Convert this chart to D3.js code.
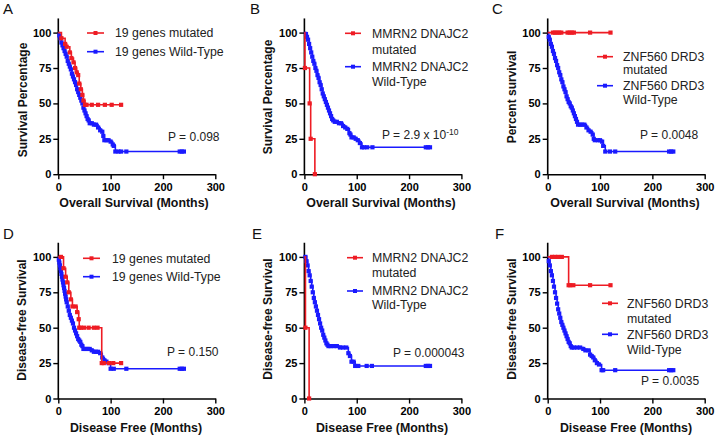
<!DOCTYPE html>
<html><head><meta charset="utf-8">
<script src="https://cdn.jsdelivr.net/npm/d3@7"></script>
<style>body{margin:0;background:#fff}svg{display:block}text{font-family:Arial,"Liberation Sans",sans-serif}</style>
</head><body>
<svg id="c" width="716" height="437"></svg>
<script>
// ---- data ----
const xTicks = [0, 100, 200, 300];
const yTicks = [0, 25, 50, 75, 100];
const panelLetters = ["A", "B", "C", "D", "E", "F"];
const yTitles = ["Survival Percentage", "Survival Percentage", "Percent survival", "Disease-free Survival", "Disease-free Survival", "Disease-free Survival"];
const xTitles = ["Overall Survival (Months)", "Overall Survival (Months)", "Overall Survival (Months)", "Disease Free (Months)", "Disease Free (Months)", "Disease Free (Months)"];
const pValues = ["P = 0.098", "P = 2.9 x 10", "P = 0.0048", "P = 0.150", "P = 0.000043", "P = 0.0035"];
const pExponent = ["", "-10", "", "", "", ""];
const mutLabels = [["19 genes mutated"], ["MMRN2 DNAJC2", "mutated"], ["ZNF560 DRD3", "mutated"], ["19 genes mutated"], ["MMRN2 DNAJC2", "mutated"], ["ZNF560 DRD3", "mutated"]];
const wtLabels = [["19 genes Wild-Type"], ["MMRN2 DNAJC2", "Wild-Type"], ["ZNF560 DRD3", "Wild-Type"], ["19 genes Wild-Type"], ["MMRN2 DNAJC2", "Wild-Type"], ["ZNF560 DRD3", "Wild-Type"]];

// Panel A (overall survival, 19 genes)
const aMutT = [0, 6, 13, 16, 22, 25, 29, 32, 35, 38, 40, 43, 46, 48, 51, 54, 64, 76, 89, 102, 120];
const aMutS = [100, 96, 92, 90, 86, 82, 79, 75, 72, 70, 64, 60, 56, 52, 49, 49, 49, 49, 49, 49, 49];
const aWtT = [0,2,4,6,8,10,12,14,16,18,20,22,24,26,28,30,32,34,36,38,40,42,44,46,48,50,52,54,56,58,60,64,68,72,76,80,84,86,88,92,96,100,104,106,109,115,120,130,232,236,240];
const aWtS = [100,98,96,93,91,89,87,85,83,80,78,76,74,71,69,67,65,63,60,58,56,54,52,50,47,45,43,41,39,38,36,36,35,35,33,31,30,27,24,24,24,23,21,20,16,16,16,16,16,16,16];
// Panel B (overall survival, MMRN2 DNAJC2)
const bMutT = [0, 1, 10, 12, 20];
const bMutS = [100, 75, 50, 25, 0];
const bWtT = [0,3,5,7,9,11,13,15,17,19,21,23,25,27,29,31,33,35,37,39,41,43,45,47,49,51,53,55,58,62,66,70,74,78,82,86,88,90,94,98,102,106,110,114,120,130,232,236,240];
const bWtS = [100,99,97,95,92,89,86,83,80,78,75,73,70,68,65,63,60,57,55,53,51,49,47,45,43,41,39,38,37,37,36,36,34,33,32,29,28,26,26,25,24,22,19,19,19,19,19,19,19];
// Panel C (overall survival, ZNF560 DRD3)
const cMutT = [0, 10, 14, 18, 22, 26, 38, 42, 46, 50, 81, 120];
const cMutS = [100, 100, 100, 100, 100, 100, 100, 100, 100, 100, 100, 100];
const cWtT = [0,2,4,6,8,10,12,14,16,18,20,22,24,26,28,30,32,34,36,38,40,42,44,46,48,50,52,54,56,58,62,66,70,74,78,82,86,88,90,96,100,104,106,110,119,129,232,236,240];
const cWtS = [100,97,95,92,90,87,85,82,80,77,75,72,70,67,65,62,60,58,55,53,51,50,48,47,45,43,41,39,37,35,35,35,35,33,31,30,28,25,24,24,24,23,20,16,16,16,16,16,16];
// Panel D (disease free, 19 genes)
const dMutT = [0, 5, 10, 14, 17, 20, 24, 27, 33, 36, 39, 40, 43, 49, 58, 68, 75, 83, 87, 97, 105, 120];
const dMutS = [100, 100, 92, 86, 82, 75, 70, 65, 65, 61, 56, 50, 50, 50, 50, 50, 50, 25, 25, 25, 25, 25];
const dWtT = [0,1,2,3,4,5,6,7,8,9,10,11,12,13,14,15,16,18,20,22,24,26,28,30,32,34,36,38,40,42,44,46,48,52,56,60,64,68,72,76,80,84,88,92,96,100,106,130,232,236,240];
const dWtS = [100,98,96,94,92,90,88,86,84,82,80,78,76,74,72,70,68,65,62,59,57,55,53,50,48,46,44,42,41,40,38,37,35,35,35,35,34,33,33,33,32,29,27,26,25,21,21,21,21,21,21];
// Panel E (disease free, MMRN2 DNAJC2)
const eMutT = [0, 2, 9];
const eMutS = [100, 50, 0];
const eWtT = [0,2,4,6,8,10,12,14,16,18,20,22,24,26,28,30,32,34,36,38,40,42,44,46,50,56,62,68,74,80,84,87,90,94,97,103,119,129,232,236,240];
const eWtS = [100,100,97,94,90,87,83,79,75,71,68,65,62,59,56,53,50,48,45,43,41,39,38,37,37,37,37,36,36,36,32,30,26,26,23,23,23,23,23,23,23];
// Panel F (disease free, ZNF560 DRD3)
const fMutT = [0, 8, 14, 20, 27, 40, 43, 49, 81, 120];
const fMutS = [100, 100, 100, 100, 100, 80, 80, 80, 80, 80];
const fWtT = [0,2,4,6,8,10,12,14,16,18,20,22,24,26,28,30,32,34,36,38,40,42,44,46,50,56,62,68,72,78,81,84,87,90,94,98,103,106,129,232,236,240];
const fWtS = [100,97,94,90,87,83,79,75,71,67,63,60,57,54,52,50,48,46,44,42,40,39,37,36,36,36,36,35,34,34,31,30,29,27,25,24,20,20,20,20,20,20];

const mutT = [aMutT, bMutT, cMutT, dMutT, eMutT, fMutT];
const mutS = [aMutS, bMutS, cMutS, dMutS, eMutS, fMutS];
const wtT = [aWtT, bWtT, cWtT, dWtT, eWtT, fWtT];
const wtS = [aWtS, bWtS, cWtS, dWtS, eWtS, fWtS];

// ---- layout ----
const RED = "#ee1c24", BLUE = "#1a1aff";
const colX = [58.3, 304.4, 547.7];
const rowY = [174.2, 398.5];
const W = 157, H100 = 141.6;
const layout = [
  {letter:[3,14], ylab:[27,100], xlab:[134,207], p:[168,137], leg:{x1:87,x2:104,tx:115,mut:[33],wt:[51.7]}},
  {letter:[250,14], ylab:[272,97], xlab:[381,207], p:[382,135], leg:{x1:345,x2:361,tx:372,mut:[33.3,50],wt:[66.7,81.7]}},
  {letter:[492,14], ylab:[516,97], xlab:[625,207], p:[640,135], leg:{x1:597,x2:613,tx:623,mut:[56.7,70],wt:[85.7,99.3]}},
  {letter:[3,239], ylab:[26,320], xlab:[136,432], p:[167,352], leg:{x1:83,x2:100,tx:112,mut:[258.3],wt:[276.7]}},
  {letter:[252,239], ylab:[272,319], xlab:[382,432], p:[393,353], leg:{x1:347,x2:363,tx:372,mut:[257.7,272.3],wt:[291,305]}},
  {letter:[495,239], ylab:[516,319], xlab:[626,432], p:[641,380.5], leg:{x1:602,x2:618,tx:627,mut:[303.3,318.3],wt:[334.3,350]}}
];

const svg = d3.select("#c");

for (let i = 0; i < 6; i++) {
  const px = colX[i % 3], py = rowY[Math.floor(i / 3)];
  const L = layout[i];
  const x = d3.scaleLinear().domain([0, 300]).range([px, px + W]);
  const y = d3.scaleLinear().domain([0, 100]).range([py, py - H100]);
  const g = svg.append("g");

  // axes
  const yAxis = d3.axisLeft(y).tickValues(yTicks).tickSize(5).tickSizeOuter(0).tickPadding(2);
  const gy = g.append("g").attr("transform", `translate(${px},0)`).call(yAxis);
  gy.select(".domain").remove();
  g.append("line").attr("x1", px).attr("x2", px).attr("y1", y(0) + 0.75).attr("y2", y(110)).attr("stroke", "#000").attr("stroke-width", 1.6);
  const xAxis = d3.axisBottom(x).tickValues(xTicks).tickSize(5).tickSizeOuter(0).tickPadding(4);
  const gx = g.append("g").attr("transform", `translate(0,${py})`).call(xAxis);
  gx.select(".domain").attr("stroke-width", 1.6);
  [gy, gx].forEach(a => {
    a.selectAll(".tick line").attr("stroke-width", 1.4);
    a.selectAll("text").attr("font-size", 11).attr("font-weight", "bold").attr("fill", "#000").style("font-family", "Arial, 'Liberation Sans', sans-serif");
  });

  // curves
  const line = d3.line().x(d => x(d[0])).y(d => y(d[1])).curve(d3.curveStepAfter);
  const series = [
    {pts: wtT[i].map((t, k) => [t, wtS[i][k]]), color: BLUE},
    {pts: mutT[i].map((t, k) => [t, mutS[i][k]]), color: RED}
  ];
  series.forEach(s => {
    g.append("path").attr("d", line(s.pts)).attr("fill", "none").attr("stroke", s.color).attr("stroke-width", 1.6);
    g.selectAll(null).data(s.pts.slice(1)).enter().append("rect")
      .attr("x", d => x(d[0]) - 2.1).attr("y", d => y(d[1]) - 2.1)
      .attr("width", 4.2).attr("height", 4.2).attr("fill", s.color);
  });

  // legend
  const leg = L.leg;
  [[leg.mut, mutLabels[i], RED], [leg.wt, wtLabels[i], BLUE]].forEach(([ys, labels, col]) => {
    g.append("line").attr("x1", leg.x1).attr("x2", leg.x2).attr("y1", ys[0]).attr("y2", ys[0]).attr("stroke", col).attr("stroke-width", 1.6);
    g.append("rect").attr("x", (leg.x1 + leg.x2) / 2 - 2).attr("y", ys[0] - 2).attr("width", 4).attr("height", 4).attr("fill", col);
    labels.forEach((lab, k) => {
      g.append("text").attr("x", leg.tx).attr("y", ys[k]).attr("dy", "0.36em").attr("font-size", 12.3).attr("fill", "#222").text(lab);
    });
  });

  // p value
  const pt = g.append("text").attr("x", L.p[0]).attr("y", L.p[1]).attr("dy", "0.36em").attr("font-size", 12).attr("fill", "#222").text(pValues[i]);
  if (pExponent[i]) pt.append("tspan").attr("font-size", 8.5).attr("dy", "-0.55em").text(pExponent[i]);

  // titles
  g.append("text").attr("x", L.xlab[0]).attr("y", L.xlab[1]).attr("text-anchor", "middle").attr("font-size", 12.4).attr("font-weight", "bold").attr("fill", "#111").text(xTitles[i]);
  g.append("text").attr("transform", `translate(${L.ylab[0]},${L.ylab[1]}) rotate(-90)`).attr("text-anchor", "middle").attr("font-size", 12).attr("font-weight", "bold").attr("fill", "#111").text(yTitles[i]);
  g.append("text").attr("x", L.letter[0]).attr("y", L.letter[1]).attr("font-size", 15).attr("fill", "#111").text(panelLetters[i]);
}
</script>
</body></html>
